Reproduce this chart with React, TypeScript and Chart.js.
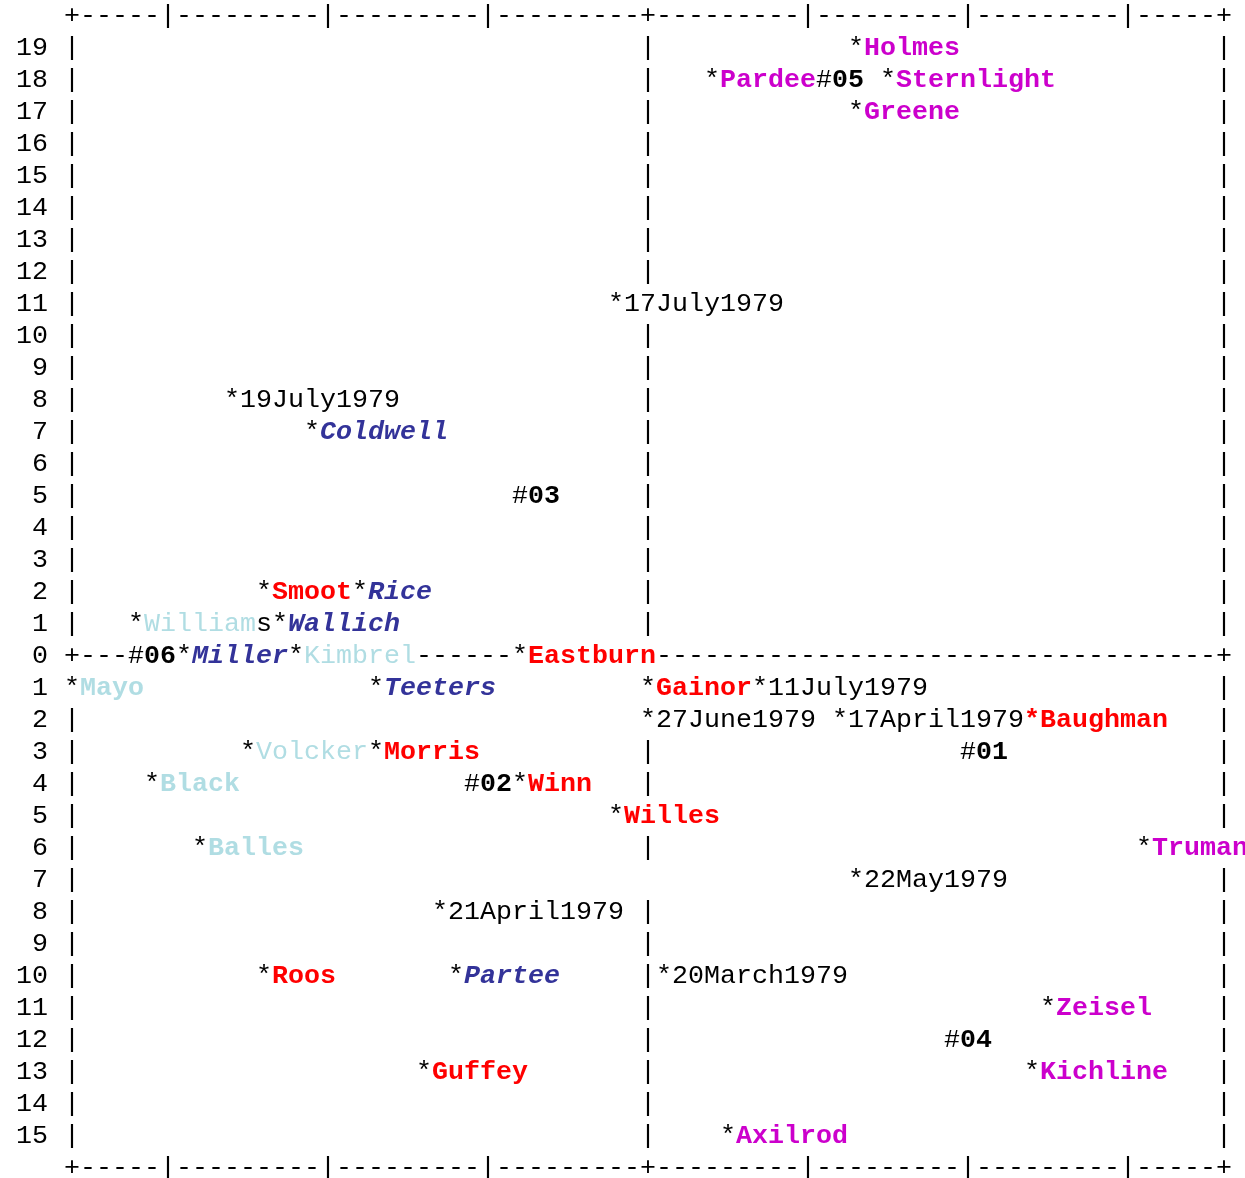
import { useEffect, useRef } from "react";
import { Chart, registerables } from "chart.js";

Chart.register(...registerables);

// ---- data ----
const labels = [
  "Holmes", "Pardee", "05", "Sternlight", "Greene",
  "17July1979", "19July1979", "Coldwell", "03",
  "Smoot", "Rice", "Williams", "Wallich",
  "06", "Miller", "Kimbrel", "Eastburn",
  "Mayo", "Teeters", "Gainor", "11July1979",
  "27June1979", "17April1979", "Baughman",
  "Volcker", "Morris", "01",
  "Black", "02", "Winn",
  "Willes", "Balles", "Truman", "22May1979", "21April1979",
  "Roos", "Partee", "20March1979",
  "Zeisel", "04", "Guffey", "Kichline", "Axilrod",
];
const xValues = [
  1.3, 0.4, 1.1, 1.5, 1.3,
  -0.2, -2.6, -2.1, -0.8,
  -2.4, -1.8, -3.2, -2.3,
  -3.2, -2.9, -2.2, -0.8,
  -3.6, -1.7, 0.0, 0.7,
  0.0, 1.2, 2.4,
  -2.5, -1.7, 2.0,
  -3.1, -1.1, -0.8,
  -0.2, -2.8, 3.1, 1.3, -1.3,
  -2.4, -1.2, 0.1,
  2.5, 1.9, -1.4, 2.4, 0.5,
];
const yValues = [
  19, 18, 18, 18, 17,
  11, 8, 7, 5,
  2, 2, 1, 1,
  0, 0, 0, 0,
  -1, -1, -1, -1,
  -2, -2, -2,
  -3, -3, -3,
  -4, -4, -4,
  -5, -6, -6, -7, -8,
  -10, -10, -10,
  -11, -12, -13, -13, -15,
];
// m = magenta group, r = red group, b = blue group, l/L = light-blue group (normal/bold),
// d = date, c = cluster centre
const kinds = [
  "m", "m", "c", "m", "m",
  "d", "d", "b", "c",
  "r", "b", "l", "b",
  "c", "b", "l", "r",
  "L", "b", "r", "d",
  "d", "d", "r",
  "l", "r", "c",
  "L", "c", "r",
  "r", "L", "m", "d", "d",
  "r", "b", "d",
  "m", "c", "r", "m", "m",
];
const yTickValues = [
  19, 18, 17, 16, 15, 14, 13, 12, 11, 10, 9, 8, 7, 6, 5, 4, 3, 2, 1, 0,
  -1, -2, -3, -4, -5, -6, -7, -8, -9, -10, -11, -12, -13, -14, -15,
];
const xTickValues = [-3, -2, -1, 0, 1, 2, 3];
const xFrame = [-3.6, 3.6];
const yFrame = [-16, 20];
const refLineGapRows = [-7];

// ---- styles ----
const FAMILY = "'Liberation Mono', 'Courier New', monospace";
const FONT_SIZE = 26.67;
type Sty = { color: string; weight: string; italic: boolean };
const styles: Record<string, Sty> = {
  m: { color: "#CC00CC", weight: "bold", italic: false },
  r: { color: "#FF0000", weight: "bold", italic: false },
  b: { color: "#333399", weight: "bold", italic: true },
  l: { color: "#B0DDE3", weight: "normal", italic: false },
  L: { color: "#B0DDE3", weight: "bold", italic: false },
  d: { color: "#000000", weight: "normal", italic: false },
  c: { color: "#000000", weight: "bold", italic: false },
};
const plain: Sty = { color: "#000000", weight: "normal", italic: false };
const coloredSymbol = ["Baughman"];
const plainTail: Record<string, number> = { Williams: 1 };

const asciiPlugin = {
  id: "asciiPlot",
  afterDraw(chart: any) {
    const xs = chart.scales.x;
    const ys = chart.scales.y;
    const ctx: CanvasRenderingContext2D = chart.ctx;
    const STEP = 0.1;
    const colOf = (v: number) => Math.round(v / STEP);
    const grid = new Map<string, { c: number; r: number; ch: string; st: Sty }>();
    const put = (c: number, r: number, ch: string, st: Sty) =>
      grid.set(c + ":" + r, { c, r, ch, st });
    const c0 = colOf(xFrame[0]);
    const c1 = colOf(xFrame[1]);

    for (const r of yFrame) {
      for (let c = c0; c <= c1; c++) put(c, r, "-", plain);
      xTickValues.forEach((v) => put(colOf(v), r, v === 0 ? "+" : "|", plain));
      put(c0, r, "+", plain);
      put(c1, r, "+", plain);
    }
    for (let r = yFrame[0] + 1; r < yFrame[1]; r++) {
      if (r === 0) {
        for (let c = c0; c <= c1; c++) put(c, r, "-", plain);
        put(c0, r, "+", plain);
        put(c1, r, "+", plain);
      } else {
        put(c0, r, "|", plain);
        put(c1, r, "|", plain);
        if (!refLineGapRows.includes(r)) put(colOf(0), r, "|", plain);
      }
    }

    labels.forEach((name, i) => {
      const st = styles[kinds[i]];
      const c = colOf(xValues[i]);
      const r = yValues[i];
      const sym = kinds[i] === "c" ? "#" : "*";
      const symStyle = coloredSymbol.includes(name) ? st : plain;
      put(c, r, sym, symStyle);
      const tail = plainTail[name] || 0;
      const chars = [...name];
      chars.forEach((ch, j) => {
        const s = j >= chars.length - tail ? plain : st;
        put(c + 1 + j, r, ch, s);
      });
    });

    ctx.save();
    ctx.textAlign = "center";
    ctx.textBaseline = "middle";
    grid.forEach((cell) => {
      ctx.font = `${cell.st.italic ? "italic " : ""}${cell.st.weight} ${FONT_SIZE}px ${FAMILY}`;
      ctx.fillStyle = cell.st.color;
      ctx.fillText(cell.ch, xs.getPixelForValue(cell.c * STEP), ys.getPixelForValue(cell.r));
    });
    ctx.restore();
  },
};

export default function App() {
  const ref = useRef<HTMLCanvasElement | null>(null);
  useEffect(() => {
    if (!ref.current) return;
    const chart = new Chart(ref.current, {
      type: "scatter",
      data: {
        datasets: [
          {
            data: xValues.map((x, i) => ({ x, y: yValues[i] })),
            pointRadius: 0,
            showLine: false,
          },
        ],
      },
      options: {
        animation: false,
        responsive: false,
        layout: { padding: { left: 0, right: 5, top: 8, bottom: 2 } },
        plugins: { legend: { display: false }, tooltip: { enabled: false } },
        scales: {
          x: { type: "linear", min: -3.65, max: 3.7, display: false },
          y: {
            type: "linear",
            min: -16.25,
            max: 20.25,
            afterBuildTicks: (s: any) => {
              s.ticks = yTickValues.map((v) => ({ value: v }));
            },
            afterFit: (s: any) => {
              s.width = 64;
              s.paddingTop = 0;
              s.paddingBottom = 0;
              s.paddingLeft = 0;
              s.paddingRight = 0;
            },
            grid: { display: false, drawTicks: false },
            border: { display: false },
            ticks: {
              autoSkip: false,
              padding: 16,
              color: "#000000",
              font: { family: FAMILY, size: FONT_SIZE },
              callback: (v: any) => String(Math.abs(Number(v))),
            },
          },
        },
      },
      plugins: [asciiPlugin],
    });
    return () => chart.destroy();
  }, []);
  return (
    <div style={{ position: "absolute", left: 0, top: 0, width: 1245, height: 1178, background: "#fff" }}>
      <canvas ref={ref} width={1245} height={1178} />
    </div>
  );
}
